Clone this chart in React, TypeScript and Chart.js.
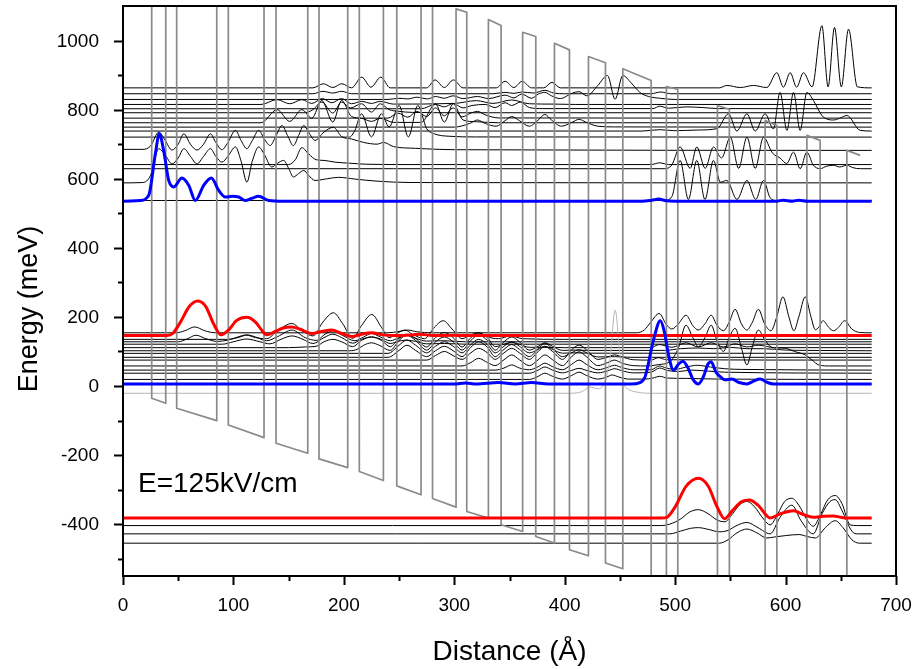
import React, { useEffect, useRef } from "react";
import { Chart, registerables } from "chart.js";

Chart.register(...registerables);

type P = [number, number];

// ---------- axes ----------
const xRange: P = [0, 700];
const yRange: P = [-550, 1100];
const xMajorTicks = [0, 100, 200, 300, 400, 500, 600, 700];
const xMinorTicks = [50, 150, 250, 350, 450, 550, 650];
const yMajorTicks = [-400, -200, 0, 200, 400, 600, 800, 1000];
const yMinorTicks = [-500, -300, -100, 100, 300, 500, 700, 900];
const xTitle = "Distance (Å)";
const yTitle = "Energy (meV)";
const fieldLabel = "E=125kV/cm";
const fieldLabelAt: P = [13.6, -306];

// ---------- conduction band profile (Å, meV) ----------
const bandProfile: P[] = [
  [0, 1440], [26.0, 1410], [26.0, -35.5], [38.7, -50.0], [38.7, 1395], [48.6, 1383], [48.6, -64.5], [84.9, -100.3],
  [84.9, 1345], [95.4, 1332], [95.4, -112.7], [127.7, -149.4], [127.7, 1296], [138.6, 1283], [138.6, -165.6], [167.3, -194.5],
  [167.3, 1250], [177.5, 1238], [177.5, -211.0], [203.5, -236.1], [203.5, 1209], [214.0, 1196], [214.0, -247.7], [235.8, -273.7],
  [235.8, 1171], [247.9, 1157], [247.9, -289.0], [269.9, -315.0], [269.9, 1130], [280.3, 1119], [280.3, -325.7], [301.6, -350.6],
  [301.6, 1091.6], [311.3, 1081.8], [311.3, -363.3], [330.9, -382.4], [330.9, 1060.7], [342.4, 1043.4], [342.4, -401.7], [361.9, -421.1],
  [361.9, 1024], [373.8, 1011.6], [373.8, -435.5], [390.7, -454.6], [390.7, 992.2], [404.3, 973], [404.3, -474], [421.5, -491.3],
  [421.5, 953.8], [436.9, 935.5], [436.9, -512.4], [452.6, -528.9], [452.6, 918.2], [478.3, 884.4], [478.3, -600], [492.1, -615],
  [492.1, 867], [502.4, 858.4], [502.4, -620], [538.3, -640], [538.3, 812], [549.1, 800.6], [549.1, -650], [581.5, -680],
  [581.5, 768.8], [592.1, 754.3], [592.1, -690], [619.3, -720], [619.3, 725.4], [631.3, 711], [631.3, -735], [655.5, -765],
  [655.5, 682], [667.6, 667.6],
];

// ---------- highlighted states ----------
const psiBlueUpper: P[] = [
  [0, 535], [15.7, 537], [23.3, 552], [29.3, 672], [32.9, 730], [36.8, 682], [41.4, 595], [45.9, 576], [53.4, 602], [59.5, 581],
  [65.5, 537], [73.1, 581], [80, 602], [86.7, 566], [92.7, 547], [98.7, 549], [104.8, 547], [110.8, 537], [116.5, 543], [122.9, 549],
  [132, 537], [145, 535], [470, 535], [479, 538], [485, 541], [492, 536], [500, 535], [592, 535], [598, 538], [606, 535],
  [612, 538], [620, 535], [678, 535],
];
const psiBlueLower: P[] = [
  [0, 6], [300, 6], [310, 9], [320, 6], [340, 10], [355, 6], [370, 10], [385, 6], [460, 6], [468, 10], [472.8, 27], [480.4, 133],
  [486.6, 189], [490, 160], [494, 90], [498.5, 46], [503, 63], [507, 72], [512, 50], [516, 20], [521, 6], [526, 30], [529.5, 62],
  [532.6, 70], [537, 40], [540.8, 27], [545, 18], [551.4, 20], [558, 10], [565, 6], [571, 14], [577, 20], [583, 11], [589, 6], [678, 6],
];
const psiRedUpper: P[] = [
  [0, 146], [40, 146], [45, 152], [52, 185], [60, 230], [67.7, 246], [75, 230], [82, 180], [88.8, 148], [95, 160], [103, 190],
  [112, 199], [120, 185], [126, 160], [130.2, 148], [138, 158], [145, 168], [152.8, 171], [160, 165], [170.9, 152], [180, 158],
  [189, 162], [198, 152], [207.2, 143], [216, 150], [225.3, 154], [235, 148], [246.4, 146], [262, 148], [270, 150], [280, 146],
  [300, 147], [310, 146], [678, 146],
];
const psiRedLower: P[] = [
  [0, -382], [488, -382], [492.5, -380], [500, -350], [510, -290], [521.1, -267], [530, -290], [538, -350], [544.7, -384],
  [552, -360], [560, -335], [567.3, -330], [575, -345], [586.1, -382], [595, -370], [607.2, -361], [616, -372], [625.3, -380],
  [634, -377], [643.4, -376], [650, -380], [655.5, -382], [678, -382],
];
const psiGray: P[] = [
  [0, -21], [405, -21], [415, -17], [423, -3], [430, -8], [436, 10], [441, 80], [445.7, 220], [450, 90], [454, 5], [458, -10],
  [466, -18], [478, -21], [678, -21],
];

// ---------- upper manifold (black) ----------
const psiU863: P[] = [
  [0, 863], [172, 863], [181.4, 875], [190, 864], [198.1, 875], [207, 863], [216.2, 894], [224.5, 865], [233.5, 894], [242, 863],
  [275, 863], [282.6, 886], [291, 864], [299.2, 886], [308, 863], [338, 863], [346, 882], [354, 864], [361.4, 882], [370, 863],
  [381, 863], [388.5, 879], [396, 863], [540, 863], [546.8, 870], [559, 864], [570.9, 870], [583, 864], [592.1, 907], [598, 865],
  [604.2, 907], [610, 865], [616.2, 907], [624, 866], [632.9, 1043], [638.5, 866], [644.3, 1038], [650.5, 866], [657, 1033],
  [665, 866], [678, 863],
];
const psiU846: P[] = [
  [0, 846], [172, 846], [181, 853], [190, 848], [198, 853], [207, 846], [335, 846], [346, 850], [354, 847], [361, 851], [372, 848],
  [382, 856], [390, 848], [400, 846], [478, 846], [487, 851], [496, 846], [678, 846],
];
const psiU829: P[] = [
  [0, 829.5], [240, 829.5], [250, 833], [258, 831], [266, 836], [276, 831], [283, 838], [291, 833], [299, 840], [308, 832],
  [321, 838], [331, 832], [346, 842], [354, 834], [361, 845], [370, 833], [376, 845], [382, 850], [388, 840], [396, 832],
  [407, 848], [413, 852], [420, 840], [430, 870], [438.7, 899], [445.6, 830], [452.6, 899], [460, 878], [468, 850], [476, 838],
  [486, 833], [500, 829.5], [678, 829.5],
];
const psiU815: P[] = [
  [0, 815], [125, 815], [139.5, 829], [151, 817], [162, 829], [171, 818], [180.5, 832], [189, 820], [198, 832], [207, 817],
  [216, 824], [225, 818], [233, 824], [245, 816], [300, 818], [320, 826], [335, 818], [352, 828], [368, 817], [390, 816],
  [410, 815], [678, 815],
];
const psiU802: P[] = [
  [0, 802.6], [270, 802.6], [283, 815], [291, 808], [299, 818], [308, 805], [316, 812], [328, 815], [337, 806], [346, 820],
  [352, 812], [360, 822], [368, 806], [380, 803], [480, 803], [486, 810], [494, 804], [510, 808], [525, 806], [540, 803], [678, 802.6],
];
const psiU791: P[] = [
  [0, 791], [165, 791], [172, 800], [180, 822], [190, 790], [198, 822], [206, 805], [216, 817], [225, 793], [233, 817], [241, 800],
  [250, 795], [262, 792], [300, 791], [678, 791],
];
const psiU775: P[] = [
  [0, 775.4], [240, 775.4], [249, 790], [258, 778], [266, 795], [275, 780], [283, 805], [291, 782], [299, 805], [307, 779],
  [315, 790], [321, 795], [328, 785], [340, 776], [678, 775.4],
];
const psiU762: P[] = [
  [0, 762], [125, 762], [139.5, 800], [151, 766], [162, 800], [171, 775], [180, 826.6], [190, 764], [198, 826.6], [207, 780],
  [216, 775], [225, 766], [233, 775], [245, 763], [270, 763], [283, 817], [291, 764], [299, 817], [308, 770], [320, 765],
  [340, 762], [678, 762],
];
const psiU749: P[] = [
  [0, 749.4], [300, 749.4], [314, 760], [321, 770], [328, 760], [338, 752], [346, 768], [352, 780], [359, 768], [368, 752],
  [376, 770], [382, 786], [388, 770], [397, 752], [407, 764], [413, 772], [419, 764], [430, 752], [445, 750], [678, 749.4],
];
const psiU738: P[] = [
  [0, 738], [470, 738], [486, 742], [500, 739], [520, 741], [538, 745], [548.3, 788], [555.9, 738], [565, 788], [572.5, 738],
  [581.5, 788], [589, 744], [595, 850], [601.2, 740], [607.2, 850], [613.2, 740], [619.3, 850], [625.3, 826], [632.9, 783],
  [638, 772], [643.4, 770], [649, 775], [655.5, 783], [667.6, 740], [678, 738],
];
const psiU720: P[] = [
  [0, 720.5], [205, 720.5], [210, 740], [216, 788], [225, 721], [234, 788], [241, 750], [250, 812], [258.4, 721], [267, 812],
  [275, 745], [282, 730], [295, 723], [320, 721], [678, 720.5],
];
const psiU685: P[] = [
  [0, 685], [18, 685], [25, 695], [32.4, 735], [38, 712], [44.4, 683], [50, 700], [55.1, 730], [61, 700], [67, 683], [73, 700],
  [79.2, 730], [84, 705], [89.6, 684], [95, 705], [101.8, 740], [107, 710], [112.2, 687], [117, 710], [122.9, 740], [128, 715],
  [133.2, 696], [138, 720], [144, 754], [149, 725], [154.3, 696], [159, 725], [163.7, 754], [168, 735], [173.9, 711], [182, 735],
  [190.5, 749], [198, 722], [207, 715], [218, 705], [230, 700], [236, 705], [245, 693], [265, 688], [300, 684], [678, 682],
];
const psiU641: P[] = [
  [0, 641], [150, 641], [156, 655], [162, 690], [168, 672], [175, 655], [182, 653], [192, 648], [205, 645], [220, 642],
  [260, 641], [478, 641], [486, 646], [494, 641], [678, 641],
];
const psiU629: P[] = [
  [0, 629], [490, 629], [497, 640], [504.5, 692], [513.6, 630], [519.6, 692], [527.2, 630], [534.7, 692], [542, 660], [550, 720],
  [557.5, 630], [565, 720], [572.5, 630], [580, 720], [588, 675], [595, 660], [601, 644], [607.2, 677], [613.2, 629], [619.3, 677],
  [625, 640], [631.3, 629], [637, 636], [643.4, 639], [649, 634], [655.5, 639], [661, 632], [667.6, 629], [678, 629],
];
const psiU588: P[] = [
  [0, 588], [18, 589], [25, 610], [32.4, 687], [38, 670], [44.4, 643], [50, 660], [55.1, 687], [61, 665], [67, 643], [73, 665],
  [79.2, 687], [84, 665], [89.6, 648], [95, 665], [101.8, 692], [107, 650], [112.2, 590], [117, 650], [122.9, 692], [128, 670],
  [134.7, 634], [140, 645], [145.5, 653], [150, 630], [154.3, 605], [159, 615], [163.7, 624], [168, 610], [173.9, 595],
  [185, 600], [195, 604], [210, 599], [230, 593], [260, 589], [678, 588],
];
const psiU537: P[] = [
  [0, 537], [490, 537], [497, 548], [504.5, 653], [512, 540], [519.6, 653], [527, 540], [534.7, 653], [541, 590], [546.8, 595],
  [556, 540], [565, 595], [573, 540], [580, 595], [586, 545], [592, 537], [678, 537],
];

// ---------- lower manifold (black) ----------
const psiL154: P[] = [
  [0, 154], [48, 154], [56, 160], [65, 171], [74, 160], [84, 154], [240, 154], [250, 158], [258, 162], [266, 157], [280, 154],
  [465, 154], [472, 162], [478, 185], [485.5, 210], [492, 178], [497, 165], [503, 180], [509.8, 205], [516, 175], [521, 162],
  [527, 180], [532.6, 205], [538, 175], [543.7, 160], [549, 185], [554.3, 222], [560, 180], [565, 162], [570, 185], [575.4, 222],
  [581, 180], [586.8, 160], [592, 200], [597.6, 258], [603, 200], [607.5, 160], [612, 200], [617.8, 258], [623, 200], [627, 163],
  [630, 170], [634, 189], [639, 170], [643.5, 160], [648, 170], [653.5, 189], [660, 165], [667, 155], [678, 154],
];
const psiL135: P[] = [
  [0, 135], [95, 135], [104, 140], [112, 147], [120, 140], [130, 137], [140, 160], [152.8, 181], [163, 158], [172, 145],
  [181, 185], [190.5, 212], [199, 180], [208, 138], [216, 175], [225.3, 207], [234, 170], [241, 140], [248, 152], [255.4, 162],
  [262, 150], [273, 137], [282, 170], [290, 189], [298, 165], [307, 137], [315, 148], [322, 154], [330, 142], [340, 137],
  [351, 145], [362, 137], [400, 135], [678, 135],
];
const psiL128: P[] = [
  [0, 128], [50, 128], [58, 136], [66, 147], [75, 137], [85, 129], [95, 133], [105, 143], [112, 148], [120, 142], [130, 131],
  [140, 143], [153, 162], [165, 140], [175, 132], [183, 150], [190, 160], [198, 148], [210, 131], [218, 142], [225, 152],
  [233, 142], [242, 131], [250, 140], [257, 147], [265, 138], [275, 130], [291, 131], [310, 128], [678, 128],
];
const psiL121: P[] = [
  [0, 121], [90, 121], [100, 128], [112, 136], [124, 128], [133, 122], [143, 135], [153, 145], [163, 135], [172, 123], [182, 140],
  [190, 150], [198, 140], [208, 124], [216, 135], [225, 142], [234, 135], [242, 123], [250, 130], [257, 133], [265, 129],
  [275, 122], [291, 123], [310, 121], [678, 121],
];
const psiL111: P[] = [
  [0, 111], [150, 111], [165, 113], [175, 115], [182, 128], [190, 135], [198, 128], [208, 114], [216, 132], [225, 142], [234, 132],
  [242, 114], [250, 138], [257, 150], [265, 138], [275, 113], [283, 140], [291, 155], [299, 140], [307, 113], [315, 140],
  [322, 154], [330, 140], [337, 114], [346, 122], [352, 126], [359, 121], [368, 112], [380, 112], [400, 111], [478, 111],
  [485.5, 120], [497, 112], [509.8, 125], [521, 113], [532.6, 125], [543.7, 113], [554.3, 122], [565, 113], [575.4, 118],
  [590, 111], [678, 111],
];
const psiL102: P[] = [
  [0, 102], [205, 102], [212, 106], [218, 118], [225, 125], [232, 118], [242, 103], [250, 132], [257, 147], [265, 132], [275, 104],
  [283, 128], [291, 142], [299, 128], [307, 104], [315, 132], [322, 147], [330, 132], [337, 104], [345, 128], [352, 142],
  [359, 128], [368, 104], [376, 115], [382, 125], [389, 115], [398, 103], [410, 104], [420, 103], [490, 103], [505, 108],
  [520, 110], [535, 108], [550, 112], [565, 108], [580, 108], [600, 104], [620, 103], [678, 102],
];
const psiL94: P[] = [
  [0, 94.5], [240, 94.5], [250, 118], [257, 133], [265, 118], [275, 96], [283, 115], [291, 128], [299, 115], [307, 96], [315, 120],
  [322, 135], [330, 120], [337, 96], [345, 115], [352, 128], [359, 115], [368, 96], [376, 106], [382, 115], [389, 106], [398, 95],
  [410, 96], [420, 95], [678, 94.5],
];
const psiL83: P[] = [
  [0, 83], [240, 83], [250, 103], [257, 118], [265, 103], [275, 85], [283, 102], [291, 115], [299, 102], [307, 85], [315, 112],
  [322, 128], [330, 112], [337, 85], [345, 106], [352, 120], [359, 106], [368, 85], [376, 108], [382, 123], [389, 108], [398, 85],
  [406, 96], [413, 105], [420, 96], [430, 84], [445, 85], [460, 83], [678, 83],
];
const psiL75: P[] = [
  [0, 75], [275, 75], [283, 88], [291, 100], [299, 88], [307, 77], [315, 96], [322, 109], [330, 96], [337, 77], [345, 96],
  [352, 109], [359, 96], [368, 77], [376, 100], [382, 114], [389, 100], [398, 77], [406, 104], [413, 118.5], [420, 104],
  [430, 77], [439, 84], [445, 90], [452, 84], [462, 76], [478, 75], [485, 82], [492, 76], [678, 75],
];
const psiL58: P[] = [
  [0, 58], [307, 58], [315, 68], [322, 80], [330, 68], [337, 59], [345, 76], [352, 90], [359, 76], [368, 59], [376, 76],
  [382, 90], [389, 76], [398, 59], [406, 84], [413, 99], [420, 84], [430, 59], [439, 68], [445, 75], [452, 66], [462, 59],
  [475, 58], [485, 62], [495, 70], [503, 110], [509.8, 176], [516, 140], [521, 114], [527, 140], [532.6, 176], [538, 130],
  [543.7, 100], [549, 140], [554.3, 167], [560, 110], [565, 61], [570, 115], [575.4, 162], [581, 135], [586.8, 113], [593, 110],
  [600, 109], [608, 100], [617.8, 90], [624, 75], [630, 61], [640, 58], [678, 58],
];
const psiL46: P[] = [
  [0, 46], [337, 46], [345, 52], [352, 61], [359, 52], [368, 47], [376, 56], [382, 66], [389, 56], [398, 47], [406, 62],
  [413, 75], [420, 62], [430, 47], [439, 54], [445, 60], [452, 53], [462, 47], [478, 47], [486, 58], [492, 52], [500, 48],
  [510, 55], [520, 60], [532, 55], [545, 50], [560, 48], [678, 46],
];
const psiL37: P[] = [
  [0, 37], [368, 37], [376, 46], [382, 55], [389, 46], [398, 38], [406, 45], [413, 51], [420, 45], [430, 38], [439, 44],
  [445, 50], [452, 44], [462, 38], [478, 40], [486, 52], [493, 45], [503, 42], [515, 46], [530, 43], [545, 40], [678, 37],
];
const psiL19: P[] = [
  [0, 19], [368, 19], [376, 28], [382, 37], [389, 28], [398, 20], [406, 30], [413, 40], [420, 30], [430, 20], [438, 26],
  [443, 32], [449, 26], [458, 20], [472, 20], [480, 23], [486, 28], [493, 23], [510, 22], [540, 20], [678, 19],
];

// ---------- bottom manifold (black) ----------
const psiB404: P[] = [
  [0, -404], [488, -404], [495, -400], [505, -385], [513, -365], [521, -358], [530, -370], [538, -388], [545, -393], [552, -370],
  [558, -345], [565, -334], [572, -350], [580, -385], [586, -402], [593, -370], [599, -335], [605.7, -325], [612, -345],
  [619, -385], [625, -406], [632, -370], [638, -330], [645, -317], [651, -340], [658.5, -402], [665, -404], [678, -404],
];
const psiB428: P[] = [
  [0, -428], [495, -428], [505, -420], [514, -412], [521, -410], [530, -415], [540, -422], [548, -418], [555, -405], [565, -395],
  [575, -410], [586, -428], [595, -380], [605.7, -345], [614, -390], [625, -428], [633, -370], [640, -335], [645, -329],
  [651, -360], [660, -420], [665, -428], [678, -428],
];
const psiB455: P[] = [
  [0, -455], [540, -455], [548, -445], [556, -425], [565, -414], [574, -425], [583, -440], [590, -437], [600, -433], [612, -430],
  [620, -436], [627, -440], [636, -410], [645, -390], [652, -410], [660, -445], [667, -455], [678, -455],
];

const blackStates: P[][] = [
  psiU863, psiU846, psiU829, psiU815, psiU802, psiU791, psiU775, psiU762, psiU749, psiU738, psiU720, psiU685, psiU641,
  psiU629, psiU588, psiU537,
  psiL154, psiL135, psiL128, psiL121, psiL111, psiL102, psiL94, psiL83, psiL75, psiL58, psiL46, psiL37, psiL19,
  psiB404, psiB428, psiB455,
];

const FONT = '"Liberation Sans", Arial, Helvetica, sans-serif';

const toXY = (pts: P[]) => pts.map(([x, y]) => ({ x, y }));

function curve(pts: P[], color: string, width: number, smooth: boolean) {
  return {
    data: toXY(pts),
    borderColor: color,
    backgroundColor: color,
    borderWidth: width,
    pointRadius: 0,
    fill: false,
    tension: smooth ? 0.4 : 0,
    cubicInterpolationMode: smooth ? "monotone" : "default",
    borderJoinStyle: "round",
  };
}

const axesPlugin = {
  id: "axesPlugin",
  afterDatasetsDraw(chart: any) {
    const { ctx, chartArea: a, scales } = chart;
    const xs = scales.x;
    const ys = scales.y;
    ctx.save();
    ctx.fillStyle = "#000";
    ctx.strokeStyle = "#000";

    // annotation
    ctx.font = `28px ${FONT}`;
    ctx.textAlign = "left";
    ctx.textBaseline = "alphabetic";
    ctx.fillText(fieldLabel, xs.getPixelForValue(fieldLabelAt[0]), ys.getPixelForValue(fieldLabelAt[1]));

    // frame
    ctx.lineWidth = 2;
    ctx.strokeRect(a.left, a.top, a.right - a.left, a.bottom - a.top);

    // ticks
    ctx.lineWidth = 2;
    ctx.beginPath();
    for (const v of yMajorTicks) {
      const py = Math.round(ys.getPixelForValue(v)) + 0.5;
      ctx.moveTo(a.left, py);
      ctx.lineTo(a.left - 9, py);
    }
    for (const v of yMinorTicks) {
      const py = Math.round(ys.getPixelForValue(v)) + 0.5;
      ctx.moveTo(a.left, py);
      ctx.lineTo(a.left - 5, py);
    }
    for (const v of xMajorTicks) {
      const px = Math.round(xs.getPixelForValue(v)) + 0.5;
      ctx.moveTo(px, a.bottom);
      ctx.lineTo(px, a.bottom + 9);
    }
    for (const v of xMinorTicks) {
      const px = Math.round(xs.getPixelForValue(v)) + 0.5;
      ctx.moveTo(px, a.bottom);
      ctx.lineTo(px, a.bottom + 5);
    }
    ctx.stroke();

    // tick labels
    ctx.font = `19px ${FONT}`;
    ctx.textAlign = "right";
    ctx.textBaseline = "middle";
    for (const v of yMajorTicks) {
      ctx.fillText(String(v), a.left - 24, ys.getPixelForValue(v) + 1);
    }
    ctx.textAlign = "center";
    ctx.textBaseline = "top";
    for (const v of xMajorTicks) {
      ctx.fillText(String(v), xs.getPixelForValue(v), a.bottom + 20);
    }

    // titles
    ctx.textAlign = "center";
    ctx.textBaseline = "alphabetic";
    ctx.font = `28px ${FONT}`;
    ctx.fillText(xTitle, (a.left + a.right) / 2, a.bottom + 84);
    ctx.font = `27px ${FONT}`;
    ctx.save();
    ctx.translate(37, 309);
    ctx.rotate(-Math.PI / 2);
    ctx.fillText(yTitle, 0, 0);
    ctx.restore();

    ctx.restore();
  },
};

export default function App() {
  const ref = useRef<HTMLCanvasElement | null>(null);

  useEffect(() => {
    document.body.style.margin = "0";
    const canvas = ref.current;
    if (!canvas) return;

    const datasets: any[] = [
      curve(psiBlueUpper, "#0000ff", 3, true),
      curve(psiBlueLower, "#0000ff", 3, true),
      curve(psiRedUpper, "#ff0000", 3, true),
      curve(psiRedLower, "#ff0000", 3, true),
      curve(bandProfile, "#8a8a8a", 1.7, false),
      curve(psiGray, "#b4b4b4", 1, true),
      ...blackStates.map((s) => curve(s, "#000000", 1, true)),
    ];

    const chart = new Chart(canvas, {
      type: "line",
      data: { datasets },
      options: {
        responsive: false,
        animation: false,
        devicePixelRatio: 1,
        events: [],
        layout: { padding: { left: 0, right: 21, top: 6, bottom: 0 } },
        plugins: { legend: { display: false }, tooltip: { enabled: false }, title: { display: false } },
        scales: {
          x: {
            type: "linear",
            min: xRange[0],
            max: xRange[1],
            grid: { display: false },
            border: { display: false },
            ticks: { display: false },
            afterFit: (s: any) => {
              s.height = 93;
            },
          },
          y: {
            type: "linear",
            min: yRange[0],
            max: yRange[1],
            grid: { display: false },
            border: { display: false },
            ticks: { display: false },
            afterFit: (s: any) => {
              s.width = 123;
            },
          },
        },
      } as any,
      plugins: [axesPlugin],
    });

    return () => chart.destroy();
  }, []);

  return (
    <div style={{ width: 917, height: 669, background: "#fff" }}>
      <canvas ref={ref} width={917} height={669} style={{ display: "block" }} />
    </div>
  );
}
